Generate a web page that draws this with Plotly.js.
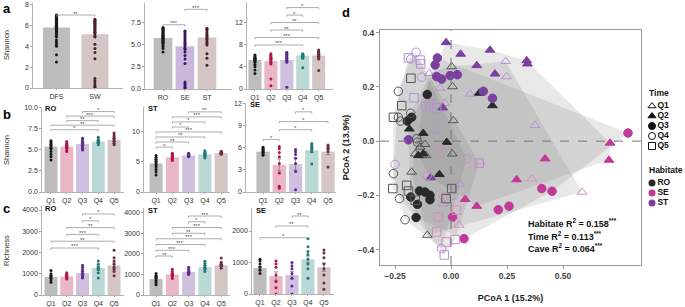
<!DOCTYPE html>
<html><head><meta charset="utf-8">
<script src="https://cdn.plot.ly/plotly-3.0.1.min.js"></script>
<style>body{margin:0;background:#fff}#chart{width:685px;height:307px}</style>
</head><body><div id="chart"></div>
<script>
const W=685,H=307;
const FONT='Arial, "Liberation Sans", sans-serif';

// ---------------- DATA ----------------
const catA1=['DFS','SW'];
const meanA1=[5.8,5.15];
const errA1=[0.1,0.2];
const dotsA1=[
 [7.0,6.9,6.85,6.8,6.75,6.7,6.6,6.55,6.5,6.45,6.4,6.3,6.25,6.2,6.1,6.05,6.0,5.95,5.9,5.85,5.8,5.7,5.65,5.6,5.5,5.4,5.3,5.2,5.0,4.9,4.6,4.4,4.2,4.0,3.2,2.5],
 [6.6,6.5,6.4,6.3,6.2,6.1,6.0,5.9,5.8,5.7,5.6,5.5,5.4,5.3,5.2,5.0,4.9,4.2,3.8,3.4,2.8,0.9,0.7,0.5,0.3,0.15,0.05]
];
const catA2=['RO','SE','ST'];
const meanA2=[5.8,4.85,5.85];
const errA2=[0.1,0.25,0.15];
const dotsA2=[
 [7.0,6.9,6.8,6.7,6.6,6.5,6.4,6.3,6.2,6.1,6.0,5.9,5.8,5.7,5.6,5.5,5.4,5.3,5.2,5.0,4.8,4.6,4.2],
 [6.6,6.5,6.3,6.1,5.9,5.7,5.5,5.3,5.1,4.9,4.7,4.5,4.2,3.8,3.4,2.9,0.8,0.6,0.4,0.2,0.05],
 [6.9,6.8,6.6,6.4,6.2,6.0,5.8,5.6,5.4,5.2,5.0,4.0,3.5,2.7]
];
const catQ=['Q1','Q2','Q3','Q4','Q5'];
const meanA3=[5.2,5.0,5.2,6.0,6.0];
const errA3=[0.2,0.35,0.3,0.15,0.2];
const dotsA3=[
 [6.1,5.9,5.7,5.5,5.4,5.3,5.2,5.0,4.8,4.4,4.0,3.4,2.8],
 [6.3,6.1,5.9,5.7,5.5,5.3,5.1,4.9,4.5,1.8,0.6],
 [6.6,6.4,6.2,6.0,5.8,5.6,5.4,5.2,5.0,4.8,0.3],
 [6.3,6.2,6.1,6.0,5.9,5.8,5.7,5.6,5.5,3.8],
 [7.0,6.8,6.6,6.4,6.2,6.0,5.8,5.6,5.4,3.3]
];
const meanB1=[5.4,5.4,5.7,6.0,6.2];
const errB1=[0.2,0.15,0.15,0.12,0.18];
const dotsB1=[
 [6.1,5.9,5.7,5.5,5.3,5.1,4.8,4.5,4.2,3.8],
 [6.0,5.8,5.6,5.5,5.4,5.3,5.2,5.0,4.8],
 [6.4,6.2,6.0,5.8,5.6,5.4,5.2,5.0],
 [6.5,6.3,6.1,6.0,5.9,5.8,5.6],
 [7.0,6.8,6.6,6.4,6.2,6.0,5.8,5.6]
];
const meanB2=[4.7,5.7,6.0,6.2,6.4];
const errB2=[0.3,0.15,0.1,0.15,0.08];
const dotsB2=[
 [6.0,5.7,5.4,5.1,4.8,4.5,4.1,3.7,3.3,2.8],
 [6.4,6.2,6.0,5.8,5.6,5.4,5.2],
 [6.4,6.3,6.2,6.1,6.0,5.9,5.8],
 [6.8,6.6,6.4,6.2,6.0,5.8,5.6],
 [6.7,6.6,6.5,6.4,6.3,6.2]
];
const meanB3=[5.5,3.7,3.8,5.7,5.5];
const errB3=[0.15,0.8,0.8,0.3,0.4];
const dotsB3=[
 [6.1,5.9,5.8,5.6,5.5,5.4,5.2,5.0],
 [6.2,5.9,5.4,4.8,3.9,2.6,0.8,0.5],
 [5.8,5.5,5.1,4.6,3.9,2.8,0.3],
 [6.6,6.4,6.2,6.0,5.8,5.5,3.8],
 [6.4,6.2,6.0,5.8,5.5,3.4]
];
const meanC1=[850,870,1030,1270,1390];
const errC1=[70,40,60,90,120];
const dotsC1=[
 [1150,1000,900,850,800,700,600],
 [1050,1000,950,900,850,800,750],
 [1400,1300,1200,1100,1000,900,850,800],
 [1600,1450,1300,1250,1200,1050,800],
 [2100,1750,1600,1450,1300,1200,1100,900]
];
const meanC2=[780,1000,1130,1350,1450];
const errC2=[60,50,40,70,60];
const dotsC2=[
 [1050,950,900,850,800,700,600,500],
 [1250,1150,1050,1000,950,900,800],
 [1350,1250,1150,1100,1050,1000],
 [1650,1550,1450,1350,1250,1150],
 [1800,1600,1500,1450,1400,1300]
];
const meanC3=[820,570,600,1100,850];
const errC3=[50,130,120,110,130];
const dotsC3=[
 [1100,1050,950,850,750,650],
 [1050,950,850,600,400,200,0],
 [1000,900,800,650,500,250,0],
 [1750,1500,1350,1250,1100,950,800,500],
 [1400,1300,1150,950,800,600,350,150]
];
// significance brackets: [from index, to index, height, label]
const brA1=[[0,1,7.0,'**']];
const brA2=[[0,1,7.3,'***'],[1,2,9.05,'***']];
const brA3=[[0,3,7.9,'***'],[0,4,9.24,'***'],[1,3,10.58,'**'],[1,4,11.92,'**'],[2,3,13.26,'*'],[2,4,14.6,'*']];
const brB1=[[0,3,7.4,'*'],[0,4,7.94,'**'],[1,3,8.48,'**'],[1,4,9.02,'***'],[2,4,9.56,'*']];
const brB2=[[0,1,7.4,'*'],[0,2,8.23,'**'],[0,3,9.06,'**'],[0,4,9.89,'***'],[1,2,10.71,'*'],[1,3,11.54,'*'],[1,4,12.37,'***'],[2,4,13.2,'**']];
const brB3=[[0,1,7.16,'*'],[1,3,8.49,'*'],[1,4,9.6,'*'],[2,3,10.93,'*']];
const brC1=[[0,3,2212,'***'],[0,4,2532,'**'],[1,3,2852,'***'],[1,4,3172,'**'],[2,3,3492,'*'],[2,4,3812,'*']];
const brC2=[[0,1,1900,'**'],[0,2,2180,'***'],[0,3,2460,'***'],[0,4,2740,'***'],[1,3,3010,'**'],[1,4,3290,'***'],[2,3,3570,'*'],[2,4,3850,'***']];
const brC3=[[0,3,1787,'*'],[1,3,2159,'**'],[2,3,2476,'**']];

// PCoA points [PCoA1, PCoA2] by Time x Habitat
const ptsQ1_RO=[[0.003,0.275],[0.007,0.201],[0.01,0.076],[-0.112,-0.053],[-0.16,-0.047],[-0.176,-0.114],[-0.106,-0.347],[-0.116,-0.012],[0.006,-0.047],[-0.138,-0.022]];
const ptsQ1_SE=[[0.36,-0.139],[0.585,-0.188],[0.036,-0.31],[0.13,-0.077]];
const ptsQ1_ST=[[0.244,0.294],[0.248,0.238],[-0.097,0.25],[-0.049,0.196],[0.085,0.174],[-0.027,0.14],[-0.074,0.039],[0.375,0.058],[0.04,-0.16],[-0.034,-0.231]];
const ptsQ2_RO=[[0.126,0.177],[0.185,0.131],[-0.186,0.045],[-0.124,0.029],[-0.019,-0.004],[-0.146,-0.053],[-0.124,-0.047],[-0.052,-0.123]];
const ptsQ2_SE=[[0.42,-0.065],[0.293,-0.142],[0.115,-0.24],[0.063,-0.215],[0.71,-0.007],[0.705,-0.07]];
const ptsQ2_ST=[[-0.022,0.364],[0.043,0.321],[0.174,0.336],[0.115,0.279],[0.196,0.248],[0.338,0.297],[0.341,0.285],[-0.037,0.123],[-0.091,-0.135]];
const ptsQ3_RO=[[-0.106,0.172],[-0.195,0.074],[-0.176,0.088],[-0.18,-0.206],[-0.141,-0.184],[-0.15,-0.233],[-0.156,-0.282],[-0.116,-0.188],[-0.094,-0.2],[-0.094,-0.216]];
const ptsQ3_SE=[[0.405,-0.175],[0.451,-0.185],[0.211,-0.253],[0.259,-0.24],[0.058,-0.36],[0.007,-0.28],[0.79,0.03]];
const ptsQ3_ST=[[-0.061,0.307],[-0.071,0.281],[-0.064,0.238],[-0.042,0.229],[-0.004,0.242],[0.028,0.245],[0.144,0.184],[0.185,0.158],[-0.19,0.005]];
const ptsQ4_RO=[[-0.235,0.184],[-0.18,0.103],[-0.235,0.088],[-0.225,0.074],[-0.153,0.009],[-0.257,-0.12],[-0.23,-0.212],[-0.205,-0.29],[-0.15,-0.004]];
const ptsQ4_SE=[[-0.045,-0.028],[0.07,-0.065],[-0.034,-0.204]];
const ptsQ4_ST=[[-0.156,0.328],[-0.18,0.303],[-0.131,0.236],[-0.106,-0.126],[0.01,-0.2],[-0.042,-0.396],[-0.25,-0.086]];
const ptsQ5_RO=[[-0.179,0.232],[-0.22,0.131],[-0.257,0.088],[-0.26,-0.175],[-0.198,-0.163],[-0.19,-0.184],[-0.16,-0.218],[0.003,-0.175],[-0.022,-0.212]];
const ptsQ5_SE=[[0.025,-0.255],[-0.057,-0.28],[-0.064,-0.335],[-0.022,-0.372]];
const ptsQ5_ST=[[-0.19,0.307],[-0.138,0.299],[-0.135,0.285],[-0.165,0.16],[-0.112,0.128],[-0.064,0.123],[0.126,-0.081],[-0.03,-0.42],[0.018,-0.363],[-0.094,0.137]];
const timeLabels=['Q1','Q2','Q3','Q4','Q5'];
const habLabels=['RO','SE','ST'];
const r2Lines=['Habitate R<sup>2</sup> = 0.158<sup>***</sup>','Time R<sup>2</sup> = 0.113<sup>***</sup>','Cave R<sup>2</sup> = 0.064<sup>***</sup>'];

// ---------------- STYLE ----------------
const barColQ=['#bdbdbd','#eab7c6','#cfc0e0','#bad8d6','#d4c6c5'];
const dotColQ=['#1a1a1a','#b3124e','#5b2a8c','#1e7b77','#6b2f3f'];
const barColA1=[barColQ[0],barColQ[4]], dotColA1=['#1a1a1a','#4a1f2a'];
const barColA2=[barColQ[0],'#c9b8dc',barColQ[4]], dotColA2=['#1a1a1a','#3b1466','#4a1f2a'];
const symT=['triangle-up-open','triangle-up','circle','circle-open','square-open'];
const filledT=[false,true,true,false,false];
const colHabFill=['#2a2a2a','#c23a98','#7b3fa0'];
const colHabOpen=['#555555','#d98bc2','#b790d2'];

const traces=[];
const layout={width:W,height:H,margin:{l:0,r:0,t:0,b:0},showlegend:false,
  paper_bgcolor:'#fff',plot_bgcolor:'rgba(0,0,0,0)',font:{family:FONT,color:'#333'},
  shapes:[],annotations:[]};

function ax(n){return n===1?'':String(n);}
function panel(n,cats,means,errs,dots,barCols,dotCols,br,cfg){
  const s=ax(n);
  layout['xaxis'+s]={domain:[cfg.x0/W,cfg.x1/W],range:cfg.xr,anchor:'y'+s,type:'category',
    showline:true,linecolor:'#a0a0a0',linewidth:0.8,ticks:'outside',ticklen:1.5,tickcolor:'#a0a0a0',
    tickfont:{size:7,color:'#333'},showgrid:false,zeroline:false,fixedrange:true};
  layout['yaxis'+s]={domain:[1-cfg.y1/H,1-cfg.y0/H],range:cfg.yr,anchor:'x'+s,
    showline:true,linecolor:'#a0a0a0',linewidth:0.8,ticks:'outside',ticklen:2,tickcolor:'#a0a0a0',
    tickvals:cfg.tv,tickformat:cfg.fmt||'',tickfont:{size:7,color:'#333'},showgrid:false,zeroline:false,fixedrange:true};
  traces.push({type:'bar',x:cats,y:means,xaxis:'x'+s,yaxis:'y'+s,width:cfg.bw,
    marker:{color:barCols,line:{width:0}},
    error_y:{type:'data',array:errs,visible:true,color:'#777',thickness:0.8,width:2}});
  dots.forEach((d,i)=>{
    traces.push({type:'scatter',mode:'markers',x:d.map(()=>cats[i]),y:d,xaxis:'x'+s,yaxis:'y'+s,
      marker:{size:3,color:dotCols[i]},hoverinfo:'y'});
  });
  const h=(cfg.yr[1]-cfg.yr[0])*0.02;
  br.forEach(b=>{
    const L={type:'line',xref:'x'+s,yref:'y'+s,line:{color:'#8a8a8a',width:0.7}};
    layout.shapes.push(Object.assign({},L,{x0:b[0],x1:b[1],y0:b[2],y1:b[2]}));
    layout.shapes.push(Object.assign({},L,{x0:b[0],x1:b[0],y0:b[2],y1:b[2]-h}));
    layout.shapes.push(Object.assign({},L,{x0:b[1],x1:b[1],y0:b[2],y1:b[2]-h}));
    layout.annotations.push({xref:'x'+s,yref:'y'+s,x:(b[0]+b[1])/2,y:b[2],text:b[3],showarrow:false,
      yanchor:'bottom',yshift:-3.5,font:{size:6,color:'#555'}});
  });
  if(cfg.title){
    layout.annotations.push({xref:'paper',yref:'paper',x:(cfg.x0+1.5)/W,y:1-(cfg.y0+2)/H,text:'<b>'+cfg.title+'</b>',
      showarrow:false,xanchor:'left',yanchor:'middle',font:{size:7.5,color:'#111'}});
  }
}

panel(1,catA1,meanA1,errA1,dotsA1,barColA1,dotColA1,brA1,{x0:33,x1:123,y0:2.5,y1:88,xr:[-0.61,1.73],yr:[0,8.2],tv:[0,2,4,6,8],bw:0.7});
panel(2,catA2,meanA2,errA2,dotsA2,barColA2,dotColA2,brA2,{x0:145,x1:232,y0:3,y1:89,xr:[-0.82,3.14],yr:[0,9.77],tv:[0,2.5,5,7.5],fmt:'.1f',bw:0.85});
panel(3,catQ,meanA3,errA3,dotsA3,barColQ,dotColQ,brA3,{x0:247,x1:333,y0:2,y1:89,xr:[-0.5,4.9],yr:[0,15.6],tv:[0,4,8,12],bw:0.82});
panel(4,catQ,meanB1,errB1,dotsB1,barColQ,dotColQ,brB1,{x0:42,x1:124,y0:107,y1:192,xr:[-0.57,4.63],yr:[0,10.1],tv:[0,2.5,5,7.5,10],fmt:'.1f',bw:0.82,title:'RO'});
panel(5,catQ,meanB2,errB2,dotsB2,barColQ,dotColQ,brB2,{x0:144,x1:230,y0:107,y1:192,xr:[-0.74,4.54],yr:[0,14],tv:[0,5,10],bw:0.8,title:'ST'});
panel(6,catQ,meanB3,errB3,dotsB3,barColQ,dotColQ,brB3,{x0:246,x1:336,y0:103,y1:192,xr:[-1.05,4.49],yr:[0,12.13],tv:[0,3,6,9,12],bw:0.82,title:'SE'});
panel(7,catQ,meanC1,errC1,dotsC1,barColQ,dotColQ,brC1,{x0:42,x1:124,y0:206,y1:295,xr:[-0.57,4.63],yr:[0,4188],tv:[0,1000,2000,3000,4000],bw:0.82,title:'RO'});
panel(8,catQ,meanC2,errC2,dotsC2,barColQ,dotColQ,brC2,{x0:144,x1:230,y0:208,y1:295,xr:[-0.74,4.54],yr:[0,4241],tv:[0,1000,2000,3000,4000],bw:0.8,title:'ST'});
panel(9,catQ,meanC3,errC3,dotsC3,barColQ,dotColQ,brC3,{x0:252,x1:334,y0:208,y1:294,xr:[-0.5,4.63],yr:[0,2730],tv:[0,1000,2000],bw:0.82,title:'SE'});

// y titles & letters
[['Shannon',45],['Shannon',150],['Richness',251]].forEach(t=>{
  layout.annotations.push({xref:'paper',yref:'paper',x:6/W,y:1-t[1]/H,text:t[0],textangle:-90,showarrow:false,
    xanchor:'center',yanchor:'middle',font:{size:7.5,color:'#333'}});
});
[['a',1,8],['b',1,115],['c',1,208],['d',340,12]].forEach(t=>{
  layout.annotations.push({xref:'paper',yref:'paper',x:t[1]/W,y:1-t[2]/H,text:'<b>'+t[0]+'</b>',showarrow:false,
    xanchor:'left',yanchor:'middle',font:{size:13,color:'#000'}});
});

// ---------------- PANEL d ----------------
const groups={Q1:[ptsQ1_RO,ptsQ1_SE,ptsQ1_ST],Q2:[ptsQ2_RO,ptsQ2_SE,ptsQ2_ST],Q3:[ptsQ3_RO,ptsQ3_SE,ptsQ3_ST],
  Q4:[ptsQ4_RO,ptsQ4_SE,ptsQ4_ST],Q5:[ptsQ5_RO,ptsQ5_SE,ptsQ5_ST]};
function hull(p){
  const a=p.slice().sort((u,v)=>u[0]-v[0]||u[1]-v[1]);
  const cr=(o,a1,b)=>(a1[0]-o[0])*(b[1]-o[1])-(a1[1]-o[1])*(b[0]-o[0]);
  const lo=[],up=[];
  for(const q of a){while(lo.length>=2&&cr(lo[lo.length-2],lo[lo.length-1],q)<=0)lo.pop();lo.push(q);}
  for(const q of a.slice().reverse()){while(up.length>=2&&cr(up[up.length-2],up[up.length-1],q)<=0)up.pop();up.push(q);}
  up.pop();lo.pop();return lo.concat(up);
}
timeLabels.forEach(t=>{
  const all=[].concat(...groups[t]);
  const hp=hull(all);hp.push(hp[0]);
  traces.push({type:'scatter',mode:'lines',x:hp.map(p=>p[0]),y:hp.map(p=>p[1]),xaxis:'x10',yaxis:'y10',
    fill:'toself',fillcolor:'rgba(110,110,110,0.16)',line:{width:0},hoverinfo:'skip'});
});
layout.shapes.push({type:'line',xref:'x10',yref:'y10 domain',x0:0,x1:0,y0:0,y1:1,line:{color:'#777',width:1,dash:'dash'}});
layout.shapes.push({type:'line',xref:'x10 domain',yref:'y10',x0:0,x1:1,y0:0,y1:0,line:{color:'#777',width:1,dash:'dash'}});
timeLabels.forEach((t,ti)=>{
  groups[t].forEach((pts,hi)=>{
    const c=filledT[ti]?colHabFill[hi]:colHabOpen[hi];
    traces.push({type:'scatter',mode:'markers',x:pts.map(p=>p[0]),y:pts.map(p=>p[1]),xaxis:'x10',yaxis:'y10',
      marker:{symbol:symT[ti],size:8.5,color:c,line:{color:c,width:1}},name:t+' '+habLabels[hi]});
  });
});
layout.xaxis10={domain:[380/W,641/W],range:[-0.317,0.848],anchor:'y10',showline:true,mirror:true,linecolor:'#999',linewidth:1,
  ticks:'outside',ticklen:3,tickcolor:'#999',tickvals:[-0.25,0,0.25,0.5],tickformat:'.2f',
  tickfont:{size:8.5,color:'#444',weight:'bold'},showgrid:false,zeroline:false,
  title:{text:'<b>PCoA 1 (15.2%)</b>',font:{size:9,color:'#222'},standoff:14}};
layout.yaxis10={domain:[1-265/H,1-30/H],range:[-0.457,0.41],anchor:'x10',showline:true,mirror:true,linecolor:'#999',linewidth:1,
  ticks:'outside',ticklen:3,tickcolor:'#999',tickvals:[-0.4,-0.2,0,0.2,0.4],tickformat:'.1f',
  tickfont:{size:8.5,color:'#444',weight:'bold'},showgrid:false,zeroline:false,
  title:{text:'<b>PCoA 2 (13.9%)</b>',font:{size:9,color:'#222'},standoff:6}};
r2Lines.forEach((t,i)=>{
  layout.annotations.push({xref:'paper',yref:'paper',x:526/W,y:1-(223+i*12.5)/H,text:'<b>'+t+'</b>',showarrow:false,
    xanchor:'left',yanchor:'middle',font:{size:9,color:'#111'}});
});

// legend overlay (pixel coordinate axis)
layout.xaxis11={domain:[0,1],range:[0,W],anchor:'y11',visible:false,fixedrange:true};
layout.yaxis11={domain:[0,1],range:[H,0],anchor:'x11',visible:false,fixedrange:true};
const legRowsT=[106,116,126,136,146], legRowsH=[183,193,203];
traces.push({type:'scatter',mode:'markers+text',xaxis:'x11',yaxis:'y11',x:legRowsT.map(()=>652),y:legRowsT,
  text:timeLabels.map(t=>'<b>'+t+'</b>'),textposition:'middle right',textfont:{size:8.5,color:'#111'},
  marker:{symbol:symT,size:7,color:'#111',line:{color:'#111',width:1}},hoverinfo:'skip',cliponaxis:false});
traces.push({type:'scatter',mode:'markers+text',xaxis:'x11',yaxis:'y11',x:legRowsH.map(()=>652),y:legRowsH,
  text:habLabels.map(t=>'<b>'+t+'</b>'),textposition:'middle right',textfont:{size:8.5,color:'#111'},
  marker:{symbol:'circle',size:7,color:colHabFill},hoverinfo:'skip',cliponaxis:false});
[['Time',93],['Habitate',170]].forEach(t=>{
  layout.annotations.push({xref:'paper',yref:'paper',x:647/W,y:1-t[1]/H,text:'<b>'+t[0]+'</b>',showarrow:false,
    xanchor:'left',yanchor:'middle',font:{size:8.5,color:'#111'}});
});

Plotly.newPlot('chart',traces,layout,{staticPlot:true,displayModeBar:false});
</script></body></html>
